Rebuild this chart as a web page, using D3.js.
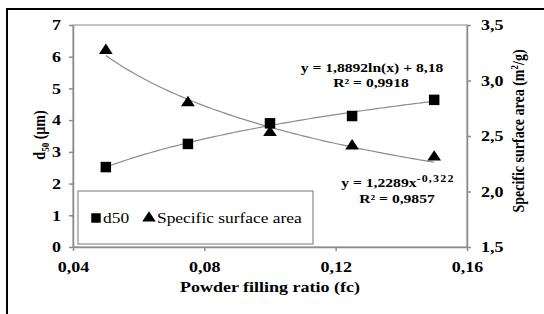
<!DOCTYPE html>
<html><head><meta charset="utf-8">
<script src="https://cdn.jsdelivr.net/npm/d3@7"></script>
<style>body{margin:0;background:#fff}svg{display:block}</style>
</head><body><svg id="c" width="544" height="314" font-family="'Liberation Serif'"></svg>
<script>
const fc = [0.05, 0.075, 0.1, 0.125, 0.15];
const d50 = [2.52, 3.25, 3.9, 4.13, 4.64];
const ssa = [3.27, 2.80, 2.53, 2.41, 2.31];
const xTicks = [0.04, 0.08, 0.12, 0.16];
const yLeftTicks = [0, 1, 2, 3, 4, 5, 6, 7];
const yRightTicks = [1.5, 2.0, 2.5, 3.0, 3.5];
const lnFit = {a: 1.8892, b: 8.18};
const powFit = {a: 1.2289, b: -0.322};

const SERIF = "'Liberation Serif'";
const SX = 1.2; // horizontal stretch of the reference's lettering
const svg = d3.select("#c");
const L = 73, R = 467, T = 25, B = 247;
const x = d3.scaleLinear().domain([0.04, 0.16]).range([L, R]);
const yl = d3.scaleLinear().domain([0, 7]).range([B, T]);
const yr = d3.scaleLinear().domain([1.5, 3.5]).range([B, T]);
const fmt = d => d3.format(".2f")(d).replace(".", ",");
const gray = "#8c8c8c";

svg.append("rect").attr("x", 7).attr("y", 9).attr("width", 560).attr("height", 330)
  .attr("fill", "none").attr("stroke", "#000").attr("stroke-width", 2);

svg.append("rect").attr("x", L).attr("y", T).attr("width", R - L).attr("height", B - T)
  .attr("fill", "none").attr("stroke", gray).attr("stroke-width", 1);

function styleAxis(g, side, pad) {
  g.attr("font-family", SERIF);
  g.selectAll("path").attr("stroke", gray).attr("stroke-width", 1.5);
  g.selectAll("line").attr("stroke", gray).attr("stroke-width", 1.5);
  const t = g.selectAll("text").style("font-family", SERIF).style("font-size", "15px")
    .style("font-weight", "bold").attr("fill", "#000").attr("transform", `scale(${SX},1)`);
  if (side === "left") t.attr("x", -pad / SX);
  if (side === "right") t.attr("x", pad / SX);
}
const gx = svg.append("g").attr("transform", `translate(0,${B})`)
  .call(d3.axisBottom(x).tickValues(xTicks).tickFormat(fmt).tickSize(4).tickPadding(10).tickSizeOuter(0));
styleAxis(gx, "bottom");
const gl = svg.append("g").attr("transform", `translate(${L},0)`)
  .call(d3.axisLeft(yl).tickValues(yLeftTicks).tickFormat(d3.format("d")).tickSize(4).tickPadding(8).tickSizeOuter(0));
styleAxis(gl, "left", 12);
const gr = svg.append("g").attr("transform", `translate(${R},0)`)
  .call(d3.axisRight(yr).tickValues(yRightTicks).tickFormat(d => d3.format(".1f")(d).replace(".", ",")).tickSize(4).tickPadding(10).tickSizeOuter(0));
styleAxis(gr, "right", 14);

// trendlines from the displayed equations
const xs = d3.range(0, 101).map(i => fc[0] + (fc[fc.length - 1] - fc[0]) * i / 100);
const line1 = d3.line().x(d => x(d)).y(d => yl(lnFit.a * Math.log(d) + lnFit.b));
const line2 = d3.line().x(d => x(d)).y(d => yr(powFit.a * Math.pow(d, powFit.b)));
svg.append("path").attr("d", line1(xs)).attr("fill", "none").attr("stroke", gray).attr("stroke-width", 1.2);
svg.append("path").attr("d", line2(xs)).attr("fill", "none").attr("stroke", gray).attr("stroke-width", 1.2);

const sq = d3.symbol().type(d3.symbolSquare).size(110);
const tri = d3.symbol().type(d3.symbolTriangle).size(62);
svg.selectAll(".sq").data(fc).join("path").attr("class", "sq")
  .attr("d", sq).attr("transform", (d, i) => `translate(${x(d)},${yl(d50[i])})`).attr("fill", "#000");
svg.selectAll(".tr").data(fc).join("path").attr("class", "tr")
  .attr("d", tri).attr("transform", (d, i) => `translate(${x(d)},${yr(ssa[i])}) scale(1.15,1)`).attr("fill", "#000");

function sText(px, py, size, weight, anchor, rot) {
  const tf = rot ? `translate(${px},${py}) rotate(-90) scale(1,${SX})` : `translate(${px},${py}) scale(${SX},1)`;
  return svg.append("text").attr("transform", tf).attr("text-anchor", anchor || "start")
    .style("font-family", SERIF).style("font-size", size + "px").style("font-weight", weight);
}

// equations
sText(372, 72, 13, "bold", "middle").text("y = 1,8892ln(x) + 8,18");
sText(371, 87, 13, "bold", "middle").text("R² = 0,9918");
const e2 = sText(398, 187, 13, "bold", "middle");
e2.append("tspan").text("y = 1,2289x");
e2.append("tspan").attr("dy", -5).style("font-size", "10px").style("letter-spacing", "1px").text("-0,322");
sText(397, 203, 13, "bold", "middle").text("R² = 0,9857");

// axis titles
sText(270, 292, 15, "bold", "middle").text("Powder filling ratio (fc)");
const tl = sText(45, 135, 14, "bold", "middle", true);
tl.append("tspan").text("d");
tl.append("tspan").style("font-size", "9px").attr("dy", 3).text("50");
tl.append("tspan").attr("dy", -3).text(" (µm)");
const tr = sText(524, 131, 14, "bold", "middle", true);
tr.append("tspan").text("Specific surface area (m");
tr.append("tspan").style("font-size", "9px").attr("dy", -5).text("2");
tr.append("tspan").attr("dy", 5).text("/g)");

// legend
svg.append("rect").attr("x", 78).attr("y", 191).attr("width", 235).attr("height", 53)
  .attr("fill", "#fff").attr("stroke", gray).attr("stroke-width", 1.2);
svg.append("path").attr("d", d3.symbol().type(d3.symbolSquare).size(90)).attr("transform", "translate(96,218)");
sText(103, 223, 14.5, "normal", "start").text("d50");
svg.append("path").attr("d", d3.symbol().type(d3.symbolTriangle).size(60)).attr("transform", "translate(149,218) scale(1.15,1)");
sText(157, 223, 14.5, "normal", "start").text("Specific surface area");
</script></body></html>
